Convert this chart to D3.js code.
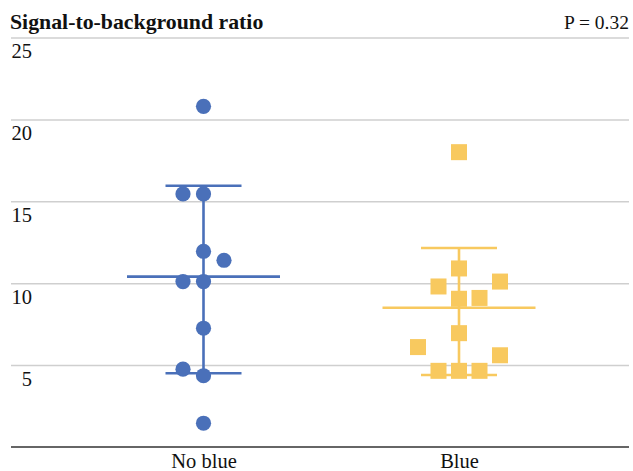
<!DOCTYPE html>
<html>
<head>
<meta charset="utf-8">
<script src="https://cdn.jsdelivr.net/npm/d3@7"></script>
<style>
  body { margin: 0; background: #fff; }
  text { font-family: "Liberation Serif", "Times New Roman", serif; fill: #111; }
</style>
</head>
<body>
<svg id="chart"></svg>
<script>
// group names along the x axis
const groups = ['No blue', 'Blue'];
// y tick labels
const yTicks = [5, 10, 15, 20, 25];

// "No blue" points: value and beeswarm slot (-1 left, 0 centre, 1 right)
const noBlueValues = [20.8, 15.45, 15.45, 11.95, 11.4, 10.1, 10.1, 7.25, 4.75, 4.35, 1.45];
const noBlueSlots  = [0, -1, 0, 0, 1, -1, 0, 0, -1, 0, 0];
// "Blue" points
const blueValues = [18.0, 10.9, 9.8, 10.1, 9.05, 9.1, 6.95, 6.1, 5.6, 4.65, 4.65, 4.65];
const blueSlots  = [0, 0, -1, 2, 0, 1, 0, -2, 2, -1, 0, 1];

// mean and error bar ends per group
const means = [10.4, 8.5];
const upper = [15.95, 12.15];
const lower = [4.5, 4.4];

const colors = ['#4a70b9', '#f8c95f'];

const width = 633, height = 471;
const svg = d3.select('#chart')
    .attr('width', width)
    .attr('height', height);

const left = 11, right = 629;

const x = d3.scalePoint()
    .domain(groups)
    .range([203.5, 459]);

const y = d3.scaleLinear()
    .domain([0, 25])
    .range([447, 37.5]);

const slotW = 20.5;

// title
svg.append('text')
    .attr('x', 10)
    .attr('y', 29)
    .attr('font-size', 21.8)
    .attr('font-weight', 'bold')
    .attr('font-family', '"Liberation Serif", serif')
    .text('Signal-to-background ratio');

svg.append('text')
    .attr('x', right)
    .attr('y', 29)
    .attr('text-anchor', 'end')
    .attr('font-size', 19.5)
    .attr('font-family', '"Liberation Serif", serif')
    .text('P = 0.32');

// grid lines + labels (labels sit below each line)
const yAxis = d3.axisLeft(y)
    .tickValues(yTicks)
    .tickSize(-(right - left))
    .tickFormat(d3.format('d'));

const gy = svg.append('g')
    .attr('transform', `translate(${left},0)`)
    .call(yAxis);
gy.select('.domain').remove();
gy.selectAll('.tick line')
    .attr('stroke', '#cfcfcf')
    .attr('stroke-width', 1.5);
gy.selectAll('.tick text')
    .attr('x', 21)
    .attr('dy', null)
    .attr('y', 20)
    .attr('text-anchor', 'end')
    .attr('font-size', 20.5)
    .attr('font-family', '"Liberation Serif", serif')
    .attr('fill', '#111');

// baseline
svg.append('line')
    .attr('x1', left)
    .attr('x2', right)
    .attr('y1', y(0))
    .attr('y2', y(0))
    .attr('stroke', '#666')
    .attr('stroke-width', 2);

// x labels
const xAxis = d3.axisBottom(x).tickSize(0).tickPadding(0);
const gx = svg.append('g')
    .attr('transform', `translate(0,${y(0)})`)
    .call(xAxis);
gx.select('.domain').remove();
gx.selectAll('.tick text')
    .attr('dy', null)
    .attr('y', 21)
    .attr('font-size', 20.5)
    .attr('font-family', '"Liberation Serif", serif')
    .attr('fill', '#111');

// error bars
groups.forEach((g, i) => {
    const cx = x(g);
    const bars = svg.append('g')
        .attr('stroke', colors[i])
        .attr('stroke-width', 2.6);
    bars.append('line')
        .attr('x1', cx).attr('x2', cx)
        .attr('y1', y(upper[i])).attr('y2', y(lower[i]));
    bars.append('line')
        .attr('x1', cx - 76.5).attr('x2', cx + 76.5)
        .attr('y1', y(means[i])).attr('y2', y(means[i]));
    [upper[i], lower[i]].forEach(v => {
        bars.append('line')
            .attr('x1', cx - 38).attr('x2', cx + 38)
            .attr('y1', y(v)).attr('y2', y(v));
    });
});

// points
const noBlue = noBlueValues.map((v, i) => ({ v, s: noBlueSlots[i] }));
const blue = blueValues.map((v, i) => ({ v, s: blueSlots[i] }));

svg.append('g')
    .selectAll('circle')
    .data(noBlue)
    .enter()
    .append('circle')
    .attr('cx', d => x('No blue') + d.s * slotW)
    .attr('cy', d => y(d.v))
    .attr('r', 7.6)
    .attr('fill', colors[0]);

svg.append('g')
    .selectAll('rect')
    .data(blue)
    .enter()
    .append('rect')
    .attr('x', d => x('Blue') + d.s * slotW - 8)
    .attr('y', d => y(d.v) - 8)
    .attr('width', 16)
    .attr('height', 16)
    .attr('fill', colors[1]);
</script>
</body>
</html>
